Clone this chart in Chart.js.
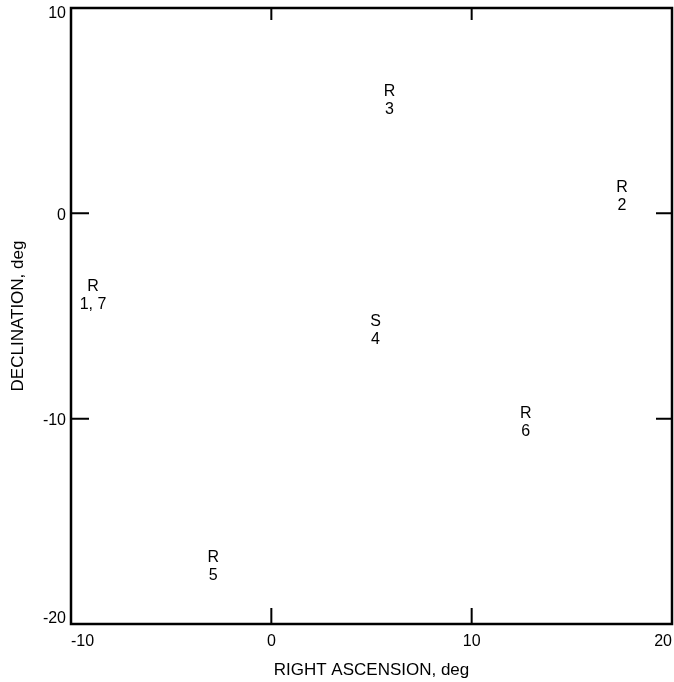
<!DOCTYPE html>
<html>
<head>
<meta charset="utf-8">
<script src="https://cdn.jsdelivr.net/npm/chart.js@4"></script>
<style>
  html, body { margin: 0; padding: 0; background: #fff; }
  #wrap { width: 674px; height: 682px; }
</style>
</head>
<body>
<div id="wrap"><canvas id="chart" width="674" height="682"></canvas></div>
<script>
// source positions
const rightAscension = [-8.9, 17.5, 5.9, 5.2, -2.9, 12.7];
const declination = [-4.0, 0.8, 5.5, -5.7, -17.2, -10.2];
const sourceType = ['R', 'R', 'R', 'S', 'R', 'R'];
const sourceIds = ['1, 7', '2', '3', '4', '5', '6'];

const xTicks = [-10, 0, 10, 20];
const yTicks = [-20, -10, 0, 10];
const innerTicksX = [0, 10];
const innerTicksY = [-10, 0];

Chart.defaults.font.family = 'Liberation Sans, Arial, sans-serif';
Chart.defaults.color = '#000';

// frame with inward tick marks on all four sides
const framePlugin = {
    id: 'framePlugin',
    afterDraw: (chart) => {
        const { ctx, chartArea: a, scales } = chart;
        const len = 16;
        ctx.save();
        ctx.strokeStyle = '#000';
        ctx.lineWidth = 2.5;
        ctx.strokeRect(a.left, a.top, a.right - a.left, a.bottom - a.top);
        ctx.lineWidth = 2;
        ctx.beginPath();
        innerTicksX.forEach(v => {
            const px = scales.x.getPixelForValue(v);
            ctx.moveTo(px, a.bottom); ctx.lineTo(px, a.bottom - len);
            ctx.moveTo(px, a.top); ctx.lineTo(px, a.top + len - 4);
        });
        innerTicksY.forEach(v => {
            const py = scales.y.getPixelForValue(v);
            ctx.moveTo(a.left, py); ctx.lineTo(a.left + len + 2, py);
            ctx.moveTo(a.right, py); ctx.lineTo(a.right - len, py);
        });
        ctx.stroke();

        // y tick labels: end ones kept inside the frame height
        ctx.font = '16px Liberation Sans, Arial, sans-serif';
        ctx.fillStyle = '#000';
        ctx.textAlign = 'right';
        yTicks.forEach(v => {
            const py = scales.y.getPixelForValue(v);
            let off = 2;
            if (v === scales.y.max) off = 6;
            if (v === scales.y.min) off = -5;
            ctx.textBaseline = 'middle';
            ctx.fillText(String(v), a.left - 5, py + off);
        });
        ctx.restore();
    }
};

// two-line text marks in place of point symbols
const labelPlugin = {
    id: 'labelPlugin',
    afterDatasetsDraw: (chart) => {
        const { ctx } = chart;
        const meta = chart.getDatasetMeta(0);
        ctx.save();
        ctx.font = '16px Liberation Sans, Arial, sans-serif';
        ctx.fillStyle = '#000';
        ctx.textAlign = 'center';
        ctx.textBaseline = 'middle';
        meta.data.forEach((pt, i) => {
            ctx.fillText(sourceType[i], pt.x, pt.y - 9);
            ctx.fillText(sourceIds[i], pt.x, pt.y + 9);
        });
        ctx.restore();
    }
};

new Chart(document.getElementById('chart').getContext('2d'), {
    type: 'scatter',
    data: {
        datasets: [{
            data: rightAscension.map((x, i) => ({ x: x, y: declination[i] })),
            pointRadius: 0,
            pointHoverRadius: 0
        }]
    },
    options: {
        responsive: false,
        animation: false,
        events: [],
        layout: { padding: { top: 8, right: 2, bottom: 0, left: 0 } },
        plugins: { legend: { display: false }, tooltip: { enabled: false } },
        scales: {
            x: {
                type: 'linear', min: -10, max: 20,
                afterFit: (s) => { s.height = 58; s.paddingLeft = 0; s.paddingRight = 0; },
                afterBuildTicks: (s) => { s.ticks = xTicks.map(v => ({ value: v })); },
                grid: { display: false, drawTicks: false },
                border: { display: false },
                ticks: { align: 'inner', padding: 8, font: { size: 16 }, color: '#000' },
                title: { display: true, text: 'RIGHT ASCENSION, deg', font: { size: 17 }, color: '#000', padding: { top: 0, bottom: 1 } }
            },
            y: {
                type: 'linear', min: -20, max: 10,
                afterFit: (s) => { s.width = 71; s.paddingTop = 0; s.paddingBottom = 0; },
                afterBuildTicks: (s) => { s.ticks = yTicks.map(v => ({ value: v })); },
                grid: { display: false, drawTicks: false },
                border: { display: false },
                ticks: { display: false },
                title: { display: true, text: 'DECLINATION, deg', font: { size: 17 }, color: '#000', padding: { top: 8, bottom: 0 } }
            }
        }
    },
    plugins: [framePlugin, labelPlugin]
});
</script>
</body>
</html>
